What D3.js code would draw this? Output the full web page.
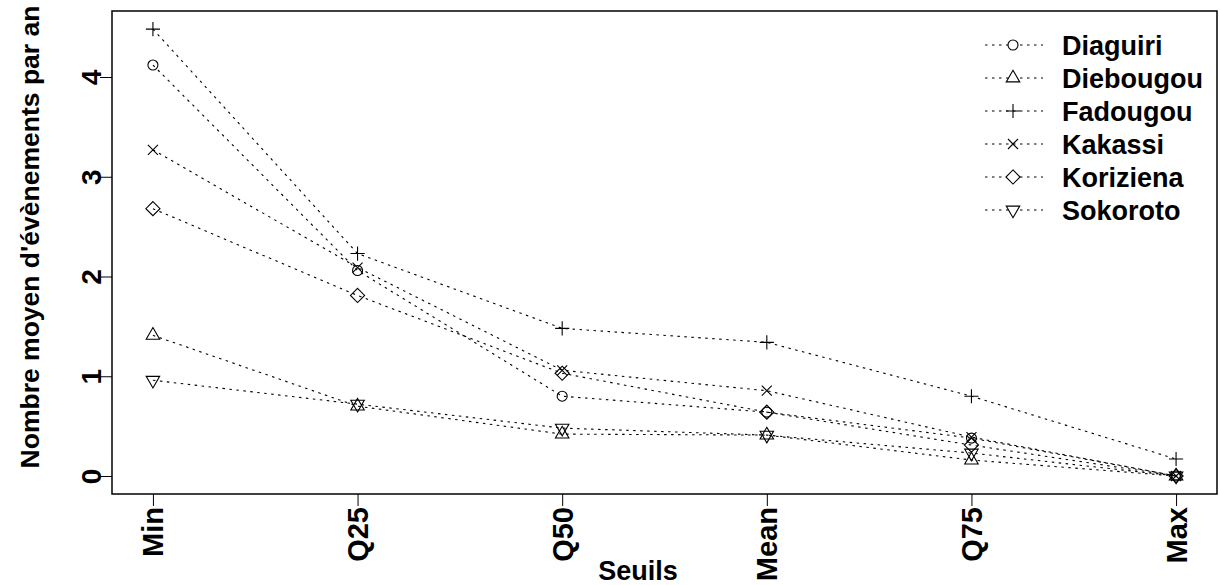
<!DOCTYPE html>
<html>
<head>
<meta charset="utf-8">
<script src="https://cdn.jsdelivr.net/npm/d3@7"></script>
<style>
  html, body { margin: 0; padding: 0; background: #fff; }
  svg { display: block; }
  text { font-family: "Liberation Sans", Arial, Helvetica, sans-serif; font-weight: bold; fill: #000; }
</style>
</head>
<body>
<svg id="chart" width="1220" height="585"></svg>
<script>
// ---- data ----
const categories = ["Min", "Q25", "Q50", "Mean", "Q75", "Max"];
const seriesNames = ["Diaguiri", "Diebougou", "Fadougou", "Kakassi", "Koriziena", "Sokoroto"];
const diaguiri  = [4.12, 2.06, 0.80, 0.64, 0.38, 0.00];
const diebougou = [1.41, 0.70, 0.42, 0.41, 0.16, 0.00];
const fadougou  = [4.48, 2.23, 1.48, 1.34, 0.80, 0.17];
const kakassi   = [3.27, 2.09, 1.06, 0.855, 0.39, 0.00];
const koriziena = [2.68, 1.81, 1.03, 0.64, 0.31, 0.00];
const sokoroto  = [0.96, 0.72, 0.48, 0.41, 0.23, 0.00];
const symbols   = ["circle", "triangle", "plus", "cross", "diamond", "triangleDown"];
const yTicks    = [0, 1, 2, 3, 4];
const xTitle = "Seuils";
const yTitle = "Nombre moyen d'évènements par an";

const seriesValues = [diaguiri, diebougou, fadougou, kakassi, koriziena, sokoroto];

// ---- layout ----
const svg = d3.select("#chart");
const plot = { left: 112, right: 1217, top: 11, bottom: 494 };

const x = d3.scalePoint().domain(categories)
  .range([plot.left, plot.right]).padding(0.2);
const y = d3.scaleLinear().domain([0, 4]).range([476, 77]);

// ---- axes ----
const yAxis = d3.axisLeft(y).tickValues(yTicks).tickSize(12).tickFormat(d3.format("d"));
const gy = svg.append("g").attr("transform", `translate(${plot.left},0)`).call(yAxis);
gy.select(".domain").remove();
gy.selectAll(".tick line").attr("stroke", "#000").attr("stroke-width", 1);
gy.selectAll(".tick text")
  .attr("font-size", 28)
  .attr("x", 0).attr("y", 0).attr("dy", 0)
  .attr("text-anchor", "middle")
  .attr("transform", "translate(-11,0) rotate(-90)");

const xAxis = d3.axisBottom(x).tickSize(12);
const gx = svg.append("g").attr("transform", `translate(0,${plot.bottom})`).call(xAxis);
gx.select(".domain").remove();
gx.selectAll(".tick line").attr("stroke", "#000").attr("stroke-width", 1);
gx.selectAll(".tick text")
  .attr("font-size", 29)
  .attr("x", 0).attr("y", 0).attr("dy", 0)
  .attr("text-anchor", "end")
  .attr("transform", "translate(10,13) rotate(-90)");

// box
svg.append("rect")
  .attr("x", plot.left).attr("y", plot.top)
  .attr("width", plot.right - plot.left).attr("height", plot.bottom - plot.top)
  .attr("fill", "none").attr("stroke", "#000").attr("stroke-width", 1.5);

// titles
svg.append("text").attr("x", 638).attr("y", 580)
  .attr("text-anchor", "middle").attr("font-size", 27).text(xTitle);
svg.append("text")
  .attr("transform", `translate(39,237) rotate(-90)`)
  .attr("text-anchor", "middle").attr("font-size", 26.5).text(yTitle);

// ---- symbols ----
const R = 5;
function symbolPath(type, cx, cy) {
  const p = d3.path();
  if (type === "circle") {
    p.moveTo(cx + R, cy); p.arc(cx, cy, R, 0, 2 * Math.PI);
  } else if (type === "triangle" || type === "triangleDown") {
    const r = 1.555 * R, xc = 1.347 * R, yc = 0.778 * R;
    const s = type === "triangle" ? 1 : -1;
    p.moveTo(cx, cy - s * r);
    p.lineTo(cx + xc, cy + s * yc);
    p.lineTo(cx - xc, cy + s * yc);
    p.closePath();
  } else if (type === "plus") {
    const h = Math.SQRT2 * R;
    p.moveTo(cx - h, cy); p.lineTo(cx + h, cy);
    p.moveTo(cx, cy - h); p.lineTo(cx, cy + h);
  } else if (type === "cross") {
    p.moveTo(cx - R, cy - R); p.lineTo(cx + R, cy + R);
    p.moveTo(cx - R, cy + R); p.lineTo(cx + R, cy - R);
  } else if (type === "diamond") {
    const h = Math.SQRT2 * R;
    p.moveTo(cx, cy - h); p.lineTo(cx + h, cy); p.lineTo(cx, cy + h); p.lineTo(cx - h, cy); p.closePath();
  }
  return p.toString();
}

const line = d3.line().x((d, i) => x(categories[i])).y(d => y(d));
const dash = "2.5,4.5";

seriesValues.forEach((vals, si) => {
  svg.append("path").datum(vals)
    .attr("d", line)
    .attr("fill", "none").attr("stroke", "#000").attr("stroke-width", 1.1)
    .attr("stroke-dasharray", dash);
  svg.append("g").selectAll("path").data(vals).join("path")
    .attr("d", (d, i) => symbolPath(symbols[si], x(categories[i]), y(d)))
    .attr("fill", "none").attr("stroke", "#000").attr("stroke-width", 1.1);
});

// ---- legend ----
const legend = svg.append("g");
const legY = d3.scalePoint().domain(seriesNames).range([45, 210]);
seriesNames.forEach((name, si) => {
  const ly = legY(name);
  legend.append("line").attr("x1", 985).attr("x2", 1043).attr("y1", ly).attr("y2", ly)
    .attr("stroke", "#000").attr("stroke-width", 1).attr("stroke-dasharray", dash);
  legend.append("path").attr("d", symbolPath(symbols[si], 1013, ly))
    .attr("fill", "#fff").attr("stroke", "#000").attr("stroke-width", 1.1);
  legend.append("text").attr("x", 1062).attr("y", ly + 9.5)
    .attr("font-size", 27).text(name);
});
</script>
</body>
</html>
